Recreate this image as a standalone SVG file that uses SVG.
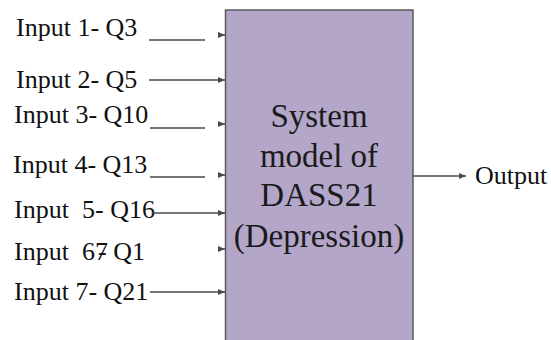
<svg xmlns="http://www.w3.org/2000/svg" width="551" height="340" viewBox="0 0 551 340">
<style>
.t{font-family:'Liberation Serif','DejaVu Serif',serif;font-size:26px;fill:#111;}
.c{font-family:'Liberation Serif','DejaVu Serif',serif;font-size:33px;fill:#1a1a1a;text-anchor:middle;}
.ln{stroke:#4a4a4a;stroke-width:1.4;fill:none;}
.ar{stroke:#4a4a4a;stroke-width:1.4;fill:none;marker-end:url(#ah);}
</style>
<defs>
<marker id="ah" markerUnits="userSpaceOnUse" markerWidth="8" markerHeight="6" refX="7" refY="3" orient="auto">
<path d="M0,0 L7,3 L0,6 Z" fill="#4a4a4a"/>
</marker>
</defs>
<rect width="551" height="340" fill="#fff"/>
<g id="system">
<rect x="225.5" y="10" width="187.5" height="335" fill="#b3a6c9" stroke="#5a5a5a" stroke-width="1.5"/>
<text class="c" x="319" y="127">System</text>
<text class="c" x="319" y="167">model of</text>
<text class="c" x="319" y="206">DASS21</text>
<text class="c" x="319" y="247">(Depression)</text>
</g>
<g id="input1"><text class="t" x="16" y="36">Input 1- Q3</text></g>
<g id="input2"><text class="t" x="16" y="88">Input 2- Q5</text></g>
<g id="input3"><text class="t" x="14" y="123">Input 3- Q10</text></g>
<g id="input4"><text class="t" x="13" y="173">Input 4- Q13</text></g>
<g id="input5"><text class="t" x="14" y="218">Input<tspan x="82">5- Q16</tspan></text></g>
<g id="input6"><text class="t" x="14" y="260">Input<tspan x="82" dx="0 0 -10">67- Q1</tspan></text></g>
<g id="input7"><text class="t" x="14" y="300">Input 7- Q21</text></g>
<g id="output"><text class="t" x="475" y="184">Output</text></g>
<g id="connectors">
<line class="ln" x1="149" y1="40" x2="205" y2="40"/>
<line class="ar" x1="218" y1="35" x2="225" y2="35"/>
<line class="ar" x1="149" y1="80" x2="225" y2="80"/>
<line class="ln" x1="150" y1="128" x2="205" y2="128"/>
<line class="ar" x1="218" y1="124" x2="225" y2="124"/>
<line class="ln" x1="150" y1="177" x2="205" y2="177"/>
<line class="ar" x1="218" y1="175" x2="225" y2="175"/>
<line class="ar" x1="152" y1="213" x2="225" y2="213"/>
<line class="ar" x1="218" y1="249" x2="225" y2="249"/>
<line class="ar" x1="150" y1="292" x2="225" y2="292"/>
<line class="ar" x1="413" y1="176" x2="466" y2="176"/>
</g>
</svg>
